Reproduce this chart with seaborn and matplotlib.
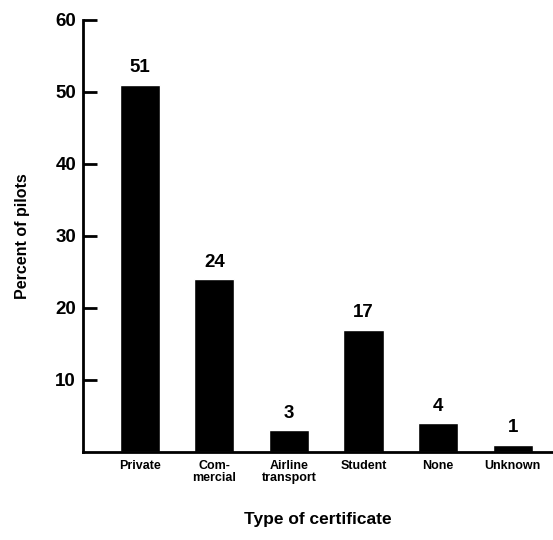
import matplotlib
matplotlib.use("Agg")
import matplotlib.pyplot as plt
import seaborn as sns
import pandas as pd

categories = ["Private", "Com-\nmercial", "Airline\ntransport", "Student", "None", "Unknown"]
percent = [51, 24, 3, 17, 4, 1]
yticks = [10, 20, 30, 40, 50, 60]

sns.set_style("white")
plt.rcParams['font.family'] = ['Liberation Sans', 'DejaVu Sans']
plt.rcParams['text.color'] = 'black'
plt.rcParams['axes.labelcolor'] = 'black'
plt.rcParams['xtick.color'] = 'black'
plt.rcParams['ytick.color'] = 'black'

df = pd.DataFrame({"cert": categories, "pct": percent})

fig = plt.figure(figsize=(5.53, 5.40), dpi=100)
ax = fig.add_axes([0.15, 0.163, 0.85, 0.80])
sns.barplot(data=df, x="cert", y="pct", color="black", width=0.54, saturation=1, ax=ax)

for i, v in enumerate(percent):
    ax.text(i, v + 1.2, str(v), ha="center", va="bottom", fontsize=13.5,
            fontweight="bold", color="black")

ax.set_xlim(-0.76, 5.54)
ax.set_ylim(0, 60)
ax.set_yticks(yticks)
ax.set_yticklabels([str(t) for t in yticks], fontsize=13.5, fontweight="bold")
ax.tick_params(axis="y", direction="in", length=10, width=2, pad=5, left=True)
ax.tick_params(axis="x", length=0, pad=6)
for lbl in ax.get_xticklabels():
    lbl.set_fontsize(9)
    lbl.set_fontweight("bold")
    lbl.set_linespacing(1.0)

for s in ["top", "right"]:
    ax.spines[s].set_visible(False)
for s in ["left", "bottom"]:
    ax.spines[s].set_color("black")
    ax.spines[s].set_linewidth(2)

ax.set_xlabel("Type of certificate", fontsize=12.5, fontweight="bold", labelpad=20)
ax.set_ylabel("Percent of pilots", fontsize=11.5, fontweight="bold", labelpad=18)

fig.savefig("out.png", dpi=100)
